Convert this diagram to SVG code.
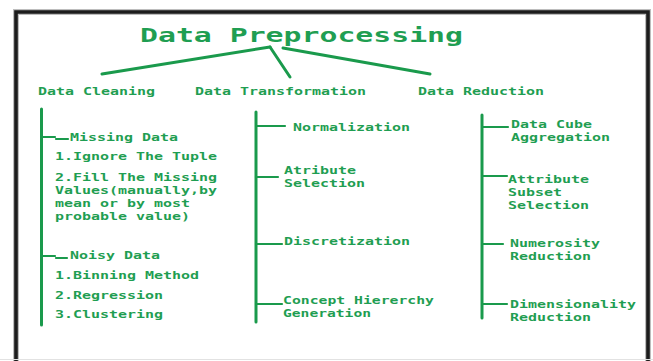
<svg xmlns="http://www.w3.org/2000/svg" width="653" height="361" viewBox="0 0 653 361">
  <style>
    .t { font-family: "DejaVu Sans Mono", "Liberation Mono", monospace; font-weight: bold; fill: #1f9e52; }
    .title { font-size: 20px; }
    .s { font-size: 11px; }
    .ln { stroke: #1a9a4c; fill: none; stroke-linecap: round; }
    .main { stroke-width: 3; }
    .tick { stroke-width: 2.2; }
  </style>
  <rect width="653" height="361" fill="#ffffff"/>

  <!-- frame -->
  <g id="frame">
    <path d="M16,361 V12 H648 V361" fill="none" stroke="#bdbdbd" stroke-width="6"/>
    <path d="M16,361 V12 H648 V361" fill="none" stroke="#1c1c1c" stroke-width="3.6"/>
    <line x1="0" y1="359.5" x2="653" y2="359.5" stroke="#e2e2e2" stroke-width="1"/>
  </g>

  <!-- connectors -->
  <g id="connectors">
    <line class="ln main" x1="270" y1="47" x2="102" y2="74"/>
    <line class="ln main" x1="270" y1="47" x2="290" y2="77"/>
    <line class="ln main" x1="283" y1="48" x2="430" y2="74"/>

    <line class="ln main" x1="41.5" y1="109" x2="41.5" y2="325"/>
    <line class="ln main" x1="256" y1="112" x2="256" y2="322"/>
    <line class="ln main" x1="482" y1="115" x2="482" y2="318"/>

    <path class="ln tick" d="M42,137 H55 M56,139 H68"/>
    <path class="ln tick" d="M42,256 H55 M56,258 H67"/>

    <line class="ln tick" x1="256" y1="126" x2="285" y2="126"/>
    <line class="ln tick" x1="256" y1="177" x2="278" y2="177"/>
    <line class="ln tick" x1="256" y1="244" x2="282" y2="244"/>
    <line class="ln tick" x1="256" y1="304" x2="282" y2="304"/>

    <line class="ln tick" x1="482" y1="127" x2="508" y2="127"/>
    <line class="ln tick" x1="482" y1="176" x2="507" y2="176"/>
    <line class="ln tick" x1="482" y1="244" x2="503" y2="244"/>
    <line class="ln tick" x1="482" y1="304" x2="507" y2="304"/>
  </g>

  <g id="title">
    <text class="t title" x="140" y="42" textLength="323" lengthAdjust="spacingAndGlyphs">Data Preprocessing</text>
  </g>

  <g id="data-cleaning">
    <text class="t s" x="38" y="95" textLength="117" lengthAdjust="spacingAndGlyphs">Data Cleaning</text>
  </g>
  <g id="data-transformation">
    <text class="t s" x="195" y="95" textLength="171" lengthAdjust="spacingAndGlyphs">Data Transformation</text>
  </g>
  <g id="data-reduction">
    <text class="t s" x="418" y="95" textLength="126" lengthAdjust="spacingAndGlyphs">Data Reduction</text>
  </g>

  <!-- cleaning branch -->
  <g id="missing-data">
    <text class="t s" x="70" y="141" textLength="108" lengthAdjust="spacingAndGlyphs">Missing Data</text>
    <text class="t s" x="55" y="160" textLength="162" lengthAdjust="spacingAndGlyphs">1.Ignore The Tuple</text>
    <text class="t s" x="55" y="181" textLength="162" lengthAdjust="spacingAndGlyphs">2.Fill The Missing</text>
    <text class="t s" x="55" y="194" textLength="162" lengthAdjust="spacingAndGlyphs">Values(manually,by</text>
    <text class="t s" x="55" y="207" textLength="135" lengthAdjust="spacingAndGlyphs">mean or by most</text>
    <text class="t s" x="55" y="220" textLength="135" lengthAdjust="spacingAndGlyphs">probable value)</text>
  </g>
  <g id="noisy-data">
    <text class="t s" x="70" y="259" textLength="90" lengthAdjust="spacingAndGlyphs">Noisy Data</text>
    <text class="t s" x="55" y="279" textLength="144" lengthAdjust="spacingAndGlyphs">1.Binning Method</text>
    <text class="t s" x="55" y="299" textLength="108" lengthAdjust="spacingAndGlyphs">2.Regression</text>
    <text class="t s" x="55" y="318" textLength="108" lengthAdjust="spacingAndGlyphs">3.Clustering</text>
  </g>

  <!-- transformation branch -->
  <g id="normalization">
    <text class="t s" x="293" y="131" textLength="117" lengthAdjust="spacingAndGlyphs">Normalization</text>
  </g>
  <g id="atribute-selection">
    <text class="t s" x="284" y="174" textLength="72" lengthAdjust="spacingAndGlyphs">Atribute</text>
    <text class="t s" x="284" y="187" textLength="81" lengthAdjust="spacingAndGlyphs">Selection</text>
  </g>
  <g id="discretization">
    <text class="t s" x="284" y="245" textLength="126" lengthAdjust="spacingAndGlyphs">Discretization</text>
  </g>
  <g id="concept-hierarchy">
    <text class="t s" x="283" y="304" textLength="151" lengthAdjust="spacingAndGlyphs">Concept Hiererchy</text>
    <text class="t s" x="283" y="317" textLength="88" lengthAdjust="spacingAndGlyphs">Generation</text>
  </g>

  <!-- reduction branch -->
  <g id="data-cube">
    <text class="t s" x="511" y="128" textLength="81" lengthAdjust="spacingAndGlyphs">Data Cube</text>
    <text class="t s" x="511" y="141" textLength="99" lengthAdjust="spacingAndGlyphs">Aggregation</text>
  </g>
  <g id="attribute-subset">
    <text class="t s" x="508" y="183" textLength="81" lengthAdjust="spacingAndGlyphs">Attribute</text>
    <text class="t s" x="508" y="196" textLength="54" lengthAdjust="spacingAndGlyphs">Subset</text>
    <text class="t s" x="508" y="209" textLength="81" lengthAdjust="spacingAndGlyphs">Selection</text>
  </g>
  <g id="numerosity">
    <text class="t s" x="510" y="247" textLength="90" lengthAdjust="spacingAndGlyphs">Numerosity</text>
    <text class="t s" x="510" y="260" textLength="81" lengthAdjust="spacingAndGlyphs">Reduction</text>
  </g>
  <g id="dimensionality">
    <text class="t s" x="510" y="308" textLength="126" lengthAdjust="spacingAndGlyphs">Dimensionality</text>
    <text class="t s" x="510" y="321" textLength="81" lengthAdjust="spacingAndGlyphs">Reduction</text>
  </g>
</svg>
